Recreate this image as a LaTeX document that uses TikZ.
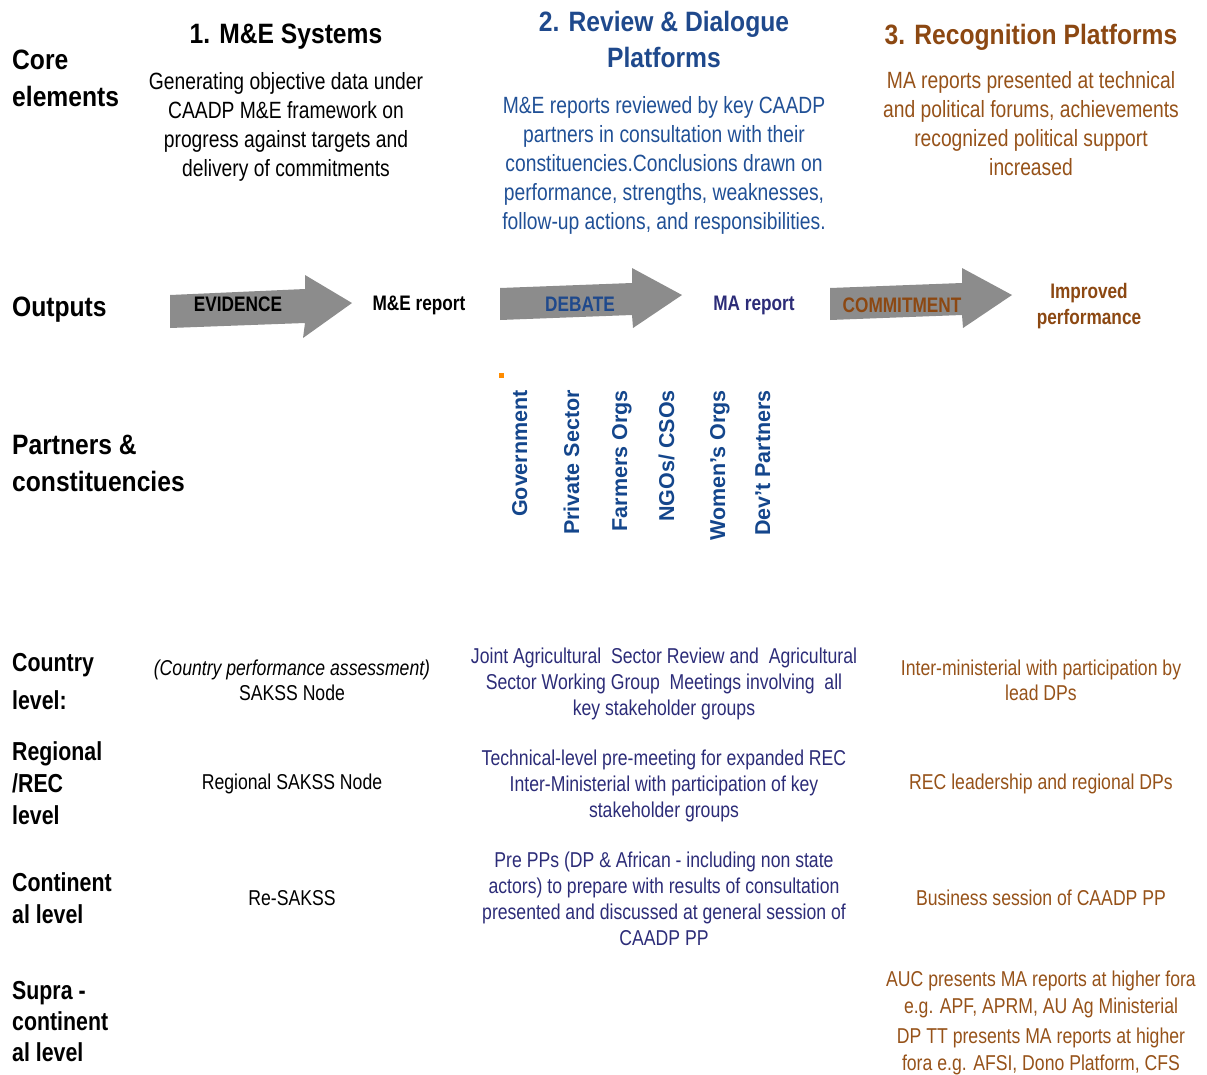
\documentclass[tikz,border=0pt]{standalone}
\usepackage{fontspec}
\setmainfont[FakeStretch=0.82]{Liberation Sans}
\newfontfamily\headfont[FakeStretch=0.88]{Liberation Sans}
\newfontfamily\widefont{Liberation Sans}
\usepackage{xcolor}
\usetikzlibrary{positioning}

\definecolor{headblue}{RGB}{31,73,140}
\definecolor{bodyblue}{RGB}{32,80,150}
\definecolor{navytxt}{RGB}{44,44,120}
\definecolor{brownhead}{RGB}{140,72,18}
\definecolor{brownbody}{RGB}{150,82,25}
\definecolor{arrowgray}{RGB}{140,140,140}
\definecolor{partblue}{RGB}{20,70,140}
\definecolor{dotorange}{RGB}{255,140,0}

\begin{document}
\begin{tikzpicture}[
  x=1pt, y=-1pt,
  side/.style={
    font=\headfont\bfseries\fontsize{28}{37}\selectfont,
    align=left, anchor=west, inner sep=0pt
  },
  level/.style={
    font=\bfseries\fontsize{26}{#1}\selectfont,
    align=left, anchor=west, inner sep=0pt
  },
  level/.default=32,
  head/.style={
    font=\headfont\bfseries\fontsize{28}{36}\selectfont,
    align=center, inner sep=0pt, text=#1
  },
  head/.default=black,
  body/.style={
    font=\fontsize{23.5}{29}\selectfont,
    align=center, inner sep=0pt, text=#1
  },
  body/.default=black,
  row/.style={
    font=\fontsize{21.5}{26}\selectfont,
    align=center, inner sep=0pt, text=#1
  },
  row/.default=black,
  tag/.style={
    font=\bfseries\fontsize{21}{26}\selectfont,
    align=center, inner sep=0pt, text=#1
  },
  tag/.default=black,
  party/.style={
    font=\widefont\bfseries\fontsize{21.5}{24}\selectfont,
    rotate=90, anchor=base east, inner sep=0pt, text=partblue
  },
  bigarrow/.style={fill=arrowgray, draw=none}
]
\useasboundingbox (0,0) rectangle (1207,1074);

% ===== Side labels =====
\node[side] (core) at (12,78.5) {Core\\elements};
\node[side] (outp) at (12,310) {Outputs};
\node[side] (part) at (12,463.5) {Partners \&\\constituencies};

% ===== Core elements =====
\node[head] (h1) at (286,37) {1. M\&E Systems};
\node[body] (b1) at (286,126.5) {Generating objective data under\\CAADP M\&E framework on\\progress against targets and\\delivery of commitments};

\node[head=headblue] (h2) at (664,39) {2. Review \& Dialogue\\Platforms};
\node[body=bodyblue] (b2) at (664,165) {M\&E reports reviewed by key CAADP\\partners in consultation with their\\constituencies.Conclusions drawn on\\performance, strengths, weaknesses,\\follow-up actions, and responsibilities.};

\node[head=brownhead] (h3) at (1031,37) {3. Recognition Platforms};
\node[body=brownbody] (b3) at (1031,124) {MA reports presented at technical\\and political forums, achievements\\recognized political support\\increased};

% ===== Output arrows =====
\fill[bigarrow] (170,295) -- (305,289) -- (305,275) -- (352,303) -- (303,338) -- (305,323) -- (170,328) -- cycle;
\fill[bigarrow] (500,288) -- (632,283) -- (632,268) -- (682,295) -- (633,328) -- (632,315) -- (500,320) -- cycle;
\fill[bigarrow] (830,288) -- (962,283) -- (962,268) -- (1012,295) -- (963,328) -- (962,315) -- (830,320) -- cycle;

\node[tag] (ev) at (238,304.5) {EVIDENCE};
\node[tag] (mer) at (419,305.5) {M\&E report};
\node[tag=headblue] (deb) at (580,304.5) {DEBATE};
\node[tag=navytxt] (mar) at (754,305.5) {MA report};
\node[tag=brownhead] (com) at (902,305) {COMMITMENT};
\node[tag=brownhead] (imp) at (1089,306) {Improved\\performance};

% ===== Partners =====
\fill[dotorange] (499,373) rectangle (504,378);
\node[party] (p1) at (527,390) {Government};
\node[party] (p2) at (579,390) {Private Sector};
\node[party] (p3) at (627,390) {Farmers Orgs};
\node[party] (p4) at (674,390) {NGOs/ CSOs};
\node[party] (p5) at (725,390) {Women’s Orgs};
\node[party] (p6) at (770,390) {Dev’t Partners};

% ===== Levels =====
\node[level=38] (l1) at (12,681.5) {Country\\level:};
\node[level] (l2) at (12,783) {Regional\\/REC\\level};
\node[level] (l3) at (12,898) {Continent\\al level};
\node[level=31] (l4) at (12,1022) {Supra -\\continent\\al level};

\node[row, font=\fontsize{21.5}{25}\selectfont] (c1) at (292,680.5) {\itshape(Country performance assessment)\\SAKSS Node};
\node[row] (r1) at (292,784) {Regional SAKSS Node};
\node[row] (n1) at (292,898) {Re-SAKSS};

\node[row=navytxt] (c2) at (664,684) {Joint Agricultural\ \ Sector Review and\ \ Agricultural\\Sector Working Group\ \ Meetings involving\ \ all\\key stakeholder groups};
\node[row=navytxt] (r2) at (664,785.5) {Technical-level pre-meeting for expanded REC\\Inter-Ministerial with participation of key\\stakeholder groups};
\node[row=navytxt] (n2) at (664,898.5) {Pre PPs (DP \& African - including non state\\actors) to prepare with results of consultation\\presented and discussed at general session of\\CAADP PP};

\node[row=brownbody, font=\fontsize{21.5}{25}\selectfont] (c3) at (1041,680.5) {Inter-ministerial with participation by\\lead DPs};
\node[row=brownbody] (r3) at (1041,784) {REC leadership and regional DPs};
\node[row=brownbody] (n3) at (1041,898) {Business session of CAADP PP};
\node[row=brownbody, font=\fontsize{21.5}{26.5}\selectfont] (s3) at (1041,1023) {AUC presents MA reports at higher fora\\e.g. APF, APRM, AU Ag Ministerial\\[4pt]DP TT presents MA reports at higher\\fora e.g. AFSI, Dono Platform, CFS};

\end{tikzpicture}
\end{document}
